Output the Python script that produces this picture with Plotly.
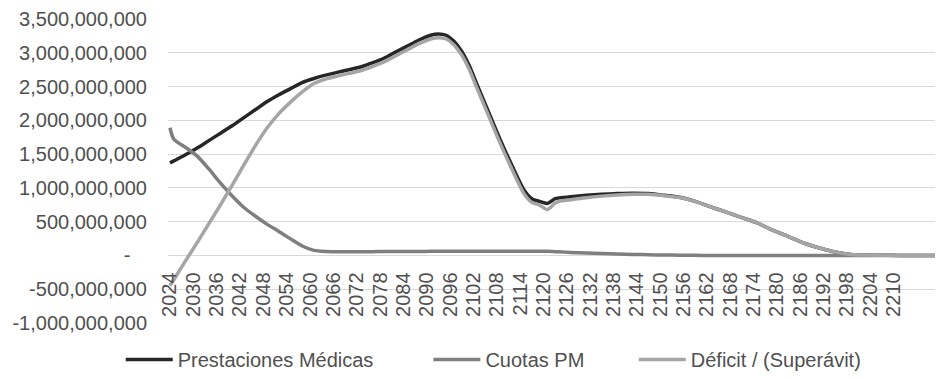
import plotly.graph_objects as go

# ---- data (values in billions) ----
years = [2024, 2025, 2028, 2031, 2034, 2037, 2040, 2043, 2046, 2049, 2052, 2055,
         2058, 2061, 2064, 2067, 2070, 2073, 2076, 2079, 2082, 2085, 2088, 2091,
         2093, 2095, 2097, 2099, 2101, 2103, 2106, 2109, 2112, 2115, 2117, 2119,
         2121, 2123, 2124, 2127, 2131, 2135, 2139, 2143, 2147, 2151, 2155, 2159,
         2163, 2167, 2171, 2175, 2179, 2183, 2187, 2191, 2195, 2199, 2205, 2212,
         2226]

prestaciones = [1.37, 1.40, 1.49, 1.59, 1.70, 1.81, 1.92, 2.04, 2.16, 2.28, 2.38, 2.47,
                2.56, 2.62, 2.67, 2.71, 2.75, 2.79, 2.85, 2.92, 3.01, 3.10, 3.19, 3.26,
                3.28, 3.26, 3.17, 3.02, 2.80, 2.52, 2.11, 1.70, 1.32, 0.97, 0.84, 0.80,
                0.77, 0.84, 0.85, 0.87, 0.89, 0.905, 0.915, 0.92, 0.915, 0.89, 0.86, 0.80,
                0.72, 0.64, 0.56, 0.48, 0.37, 0.28, 0.18, 0.11, 0.05, 0.015, 0.004, 0.0,
                0.0]

cuotas = [1.89, 1.72, 1.60, 1.47, 1.28, 1.07, 0.88, 0.71, 0.58, 0.46, 0.355, 0.245,
          0.14, 0.075, 0.058, 0.055, 0.055, 0.055, 0.056, 0.057, 0.058, 0.058, 0.059, 0.06,
          0.06, 0.06, 0.06, 0.06, 0.06, 0.06, 0.06, 0.06, 0.06, 0.06, 0.06, 0.06,
          0.06, 0.055, 0.053, 0.045, 0.035, 0.027, 0.02, 0.015, 0.01, 0.006, 0.003, 0.001,
          0.0, 0.0, 0.0, 0.0, 0.0, 0.0, 0.0, 0.0, 0.0, 0.0, 0.0, 0.0,
          0.0]

deficit = [-0.45, -0.36, -0.08, 0.19, 0.47, 0.75, 1.04, 1.34, 1.63, 1.89, 2.10, 2.27,
           2.42, 2.545, 2.61, 2.655, 2.695, 2.735, 2.795, 2.865, 2.955, 3.045, 3.135, 3.205,
           3.225, 3.205, 3.115, 2.965, 2.745, 2.465, 2.055, 1.645, 1.265, 0.915, 0.785, 0.745,
           0.68, 0.775, 0.80, 0.825, 0.855, 0.878, 0.895, 0.905, 0.905, 0.884, 0.857, 0.80,
           0.72, 0.64, 0.56, 0.48, 0.37, 0.28, 0.18, 0.11, 0.05, 0.015, 0.004, 0.0,
           0.0]

series_names = ["Prestaciones Médicas", "Cuotas PM", "Déficit / (Superávit)"]
series_colors = ["#262626", "#7f7f7f", "#a5a5a5"]
legend_pad = [9, 8, 0]

y_tick_vals = [-1.0e9, -0.5e9, 0, 0.5e9, 1.0e9, 1.5e9, 2.0e9, 2.5e9, 3.0e9, 3.5e9]
y_tick_text = ["-1,000,000,000", "-500,000,000", "-\u00a0\u00a0\u00a0", "500,000,000",
               "1,000,000,000", "1,500,000,000", "2,000,000,000", "2,500,000,000",
               "3,000,000,000", "3,500,000,000"]
x_tick_vals = list(range(2024, 2211, 6))

fig = go.Figure()
for name, vals, col, pad in zip(series_names, [prestaciones, cuotas, deficit],
                                series_colors, legend_pad):
    fig.add_trace(go.Scatter(
        x=years, y=[v * 1e9 for v in vals], name=name + "\u00a0" * pad,
        mode="lines", line=dict(color=col, width=3.5, shape="spline", smoothing=0.7),
    ))

font_main = "Liberation Sans, Arial, sans-serif"
txt_col = "#505050"
fig.update_layout(
    width=935, height=371,
    margin=dict(l=160, r=0, t=11, b=56),
    paper_bgcolor="white", plot_bgcolor="white",
    showlegend=True,
    legend=dict(orientation="h", x=-0.061, xanchor="left", y=-0.12, yanchor="middle",
                font=dict(family=font_main, size=20, color=txt_col),
                itemwidth=47, bgcolor="rgba(0,0,0,0)"),
    xaxis=dict(range=[2023.5, 2222.7], tickvals=x_tick_vals,
               ticktext=[str(v) for v in x_tick_vals], tickangle=-90,
               anchor="free", position=1/4.5, showgrid=False, zeroline=False,
               showline=False, ticks="", ticklabelstandoff=12,
               tickfont=dict(family=font_main, size=20, color=txt_col)),
    yaxis=dict(range=[-1.0008e9, 3.5008e9], tickvals=y_tick_vals, ticktext=y_tick_text,
               showgrid=True, gridcolor="#d9d9d9", gridwidth=1.3, zeroline=False,
               showline=False, ticks="", ticklabelstandoff=20,
               tickfont=dict(family=font_main, size=20, color=txt_col)),
)

fig.write_html("out.html")
